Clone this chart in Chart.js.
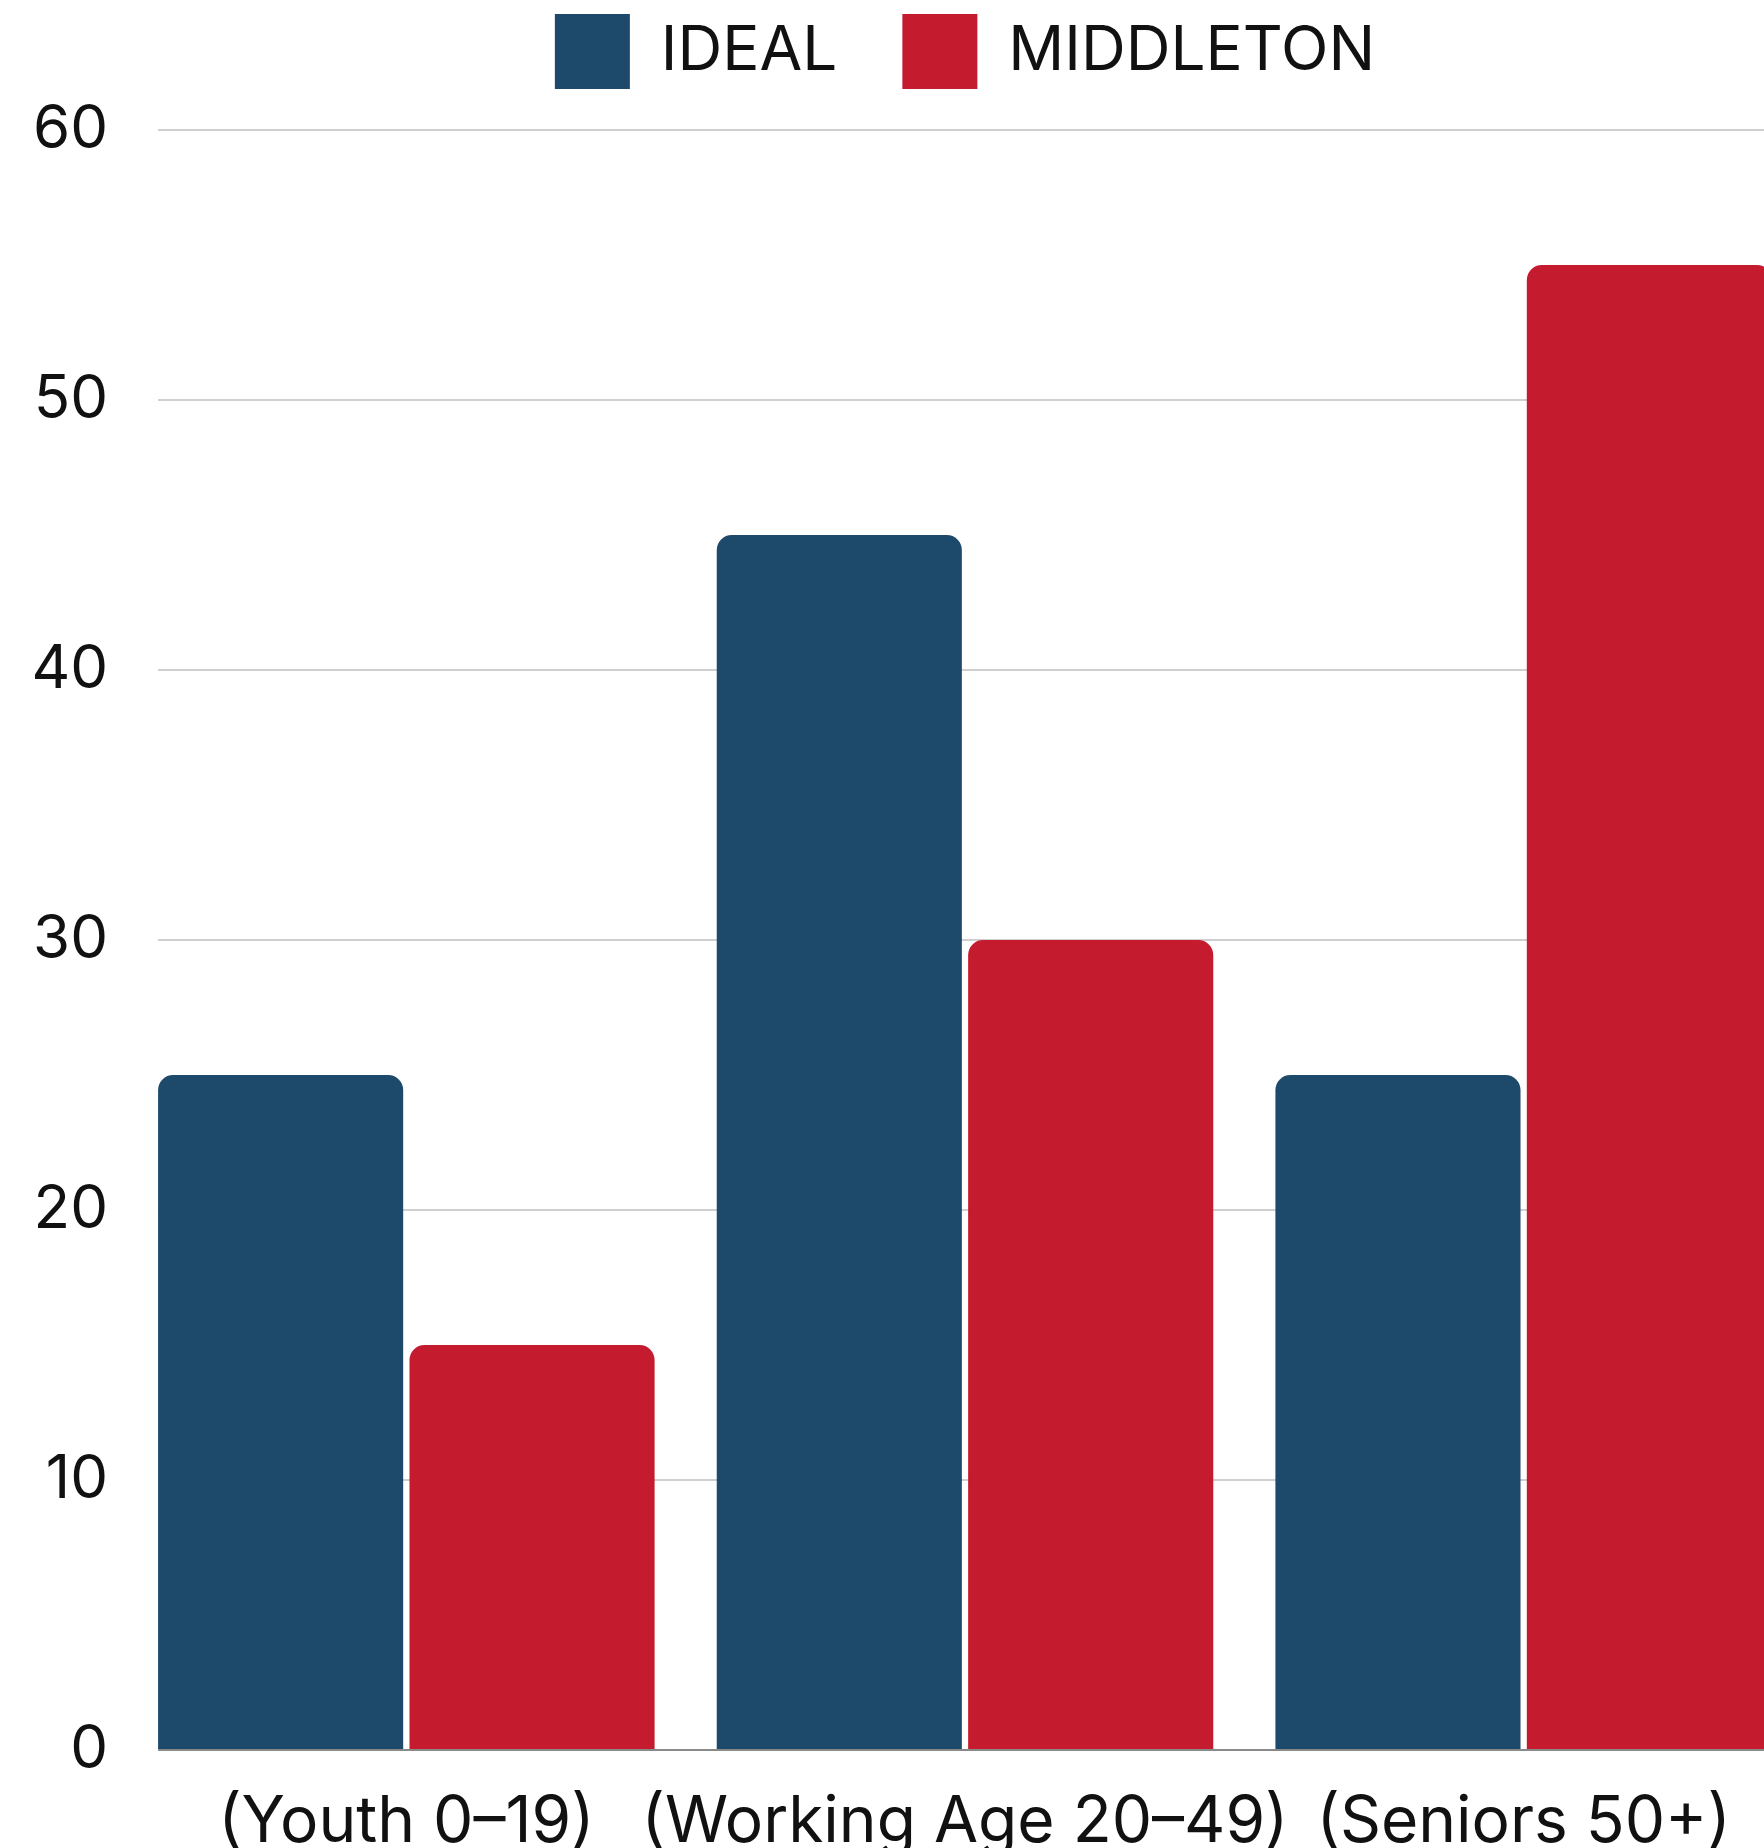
<!doctype html>
<html lang="en">
  <head>
    <meta charset="UTF-8" />
    <title>Ideal vs Middleton age mix</title>
    <script src="https://cdn.jsdelivr.net/npm/chart.js"></script>
    <style>
      html, body { margin: 0; padding: 0; background: #fff; overflow: hidden; }
      #wrap { position: absolute; left: 0; top: -51px; width: 1810px; height: 1901px; }
    </style>
  </head>
  <body>
    <div id="wrap"><canvas id="ageChart"></canvas></div>

    <script>
      const categories = ["(Youth 0–19)", "(Working Age 20–49)", "(Seniors 50+)"];
      const idealValues = [25, 45, 25];
      const middletonValues = [15, 30, 55];
      const yTicks = [0, 10, 20, 30, 40, 50, 60];

      const BLUE = "#1d4a6b";
      const RED = "#c41b2f";
      const FONT = "Inter";

      // hides the grid between the plot edge and the first bar
      const trimGrid = {
        id: "trimGrid",
        beforeDatasetsDraw(chart) {
          const bar = chart.getDatasetMeta(0).data[0];
          if (!bar) return;
          const { ctx, chartArea } = chart;
          const left = bar.x - bar.width / 2;
          ctx.save();
          ctx.fillStyle = "#fff";
          ctx.fillRect(chartArea.left - 1, chartArea.top - 3, left - chartArea.left + 1, chartArea.height + 6);
          ctx.restore();
        },
      };

      new Chart(document.getElementById("ageChart"), {
        type: "bar",
        data: {
          labels: categories,
          datasets: [
            {
              label: "IDEAL",
              data: idealValues,
              backgroundColor: BLUE,
              borderRadius: { topLeft: 15, topRight: 15 },
              borderSkipped: "start",
              categoryPercentage: 0.9,
              barPercentage: 0.975,
            },
            {
              label: "MIDDLETON",
              data: middletonValues,
              backgroundColor: RED,
              borderRadius: { topLeft: 15, topRight: 15 },
              borderSkipped: "start",
              categoryPercentage: 0.9,
              barPercentage: 0.975,
            },
          ],
        },
        options: {
          responsive: true,
          maintainAspectRatio: false,
          animation: false,
          layout: { padding: { left: 0, right: 7, top: 0, bottom: 0 } },
          plugins: {
            tooltip: { enabled: false },
            // empty title used only as a gap between legend and plot
            title: {
              display: true,
              text: "",
              weight: 500,
              padding: 0,
              font: { size: 10, lineHeight: 3.1 },
            },
            legend: {
              position: "top",
              fullSize: false,
              labels: {
                boxWidth: 75,
                boxHeight: 75,
                padding: 65,
                color: "#111",
                font: { family: FONT, size: 62 },
              },
            },
          },
          scales: {
            x: {
              grid: { display: false },
              border: { display: false },
              ticks: {
                color: "#111",
                padding: 26,
                maxRotation: 0,
                autoSkip: false,
                font: { family: FONT, size: 64 },
              },
              afterFit(scale) { scale.height = 100; },
            },
            y: {
              min: 0,
              max: 60,
              afterBuildTicks(scale) {
                scale.ticks = yTicks.map((v) => ({ value: v }));
              },
              border: { display: false },
              grid: {
                drawTicks: false,
                lineWidth: 2,
                color: (c) => (c.tick && c.tick.value === 0 ? "#8a8a8a" : "#cfcfcf"),
              },
              ticks: {
                color: "#111",
                padding: 19,
                font: { family: FONT, size: 60 },
              },
              afterFit(scale) { scale.width = 127; },
            },
          },
        },
        plugins: [trimGrid],
      });
    </script>
  </body>
</html>
